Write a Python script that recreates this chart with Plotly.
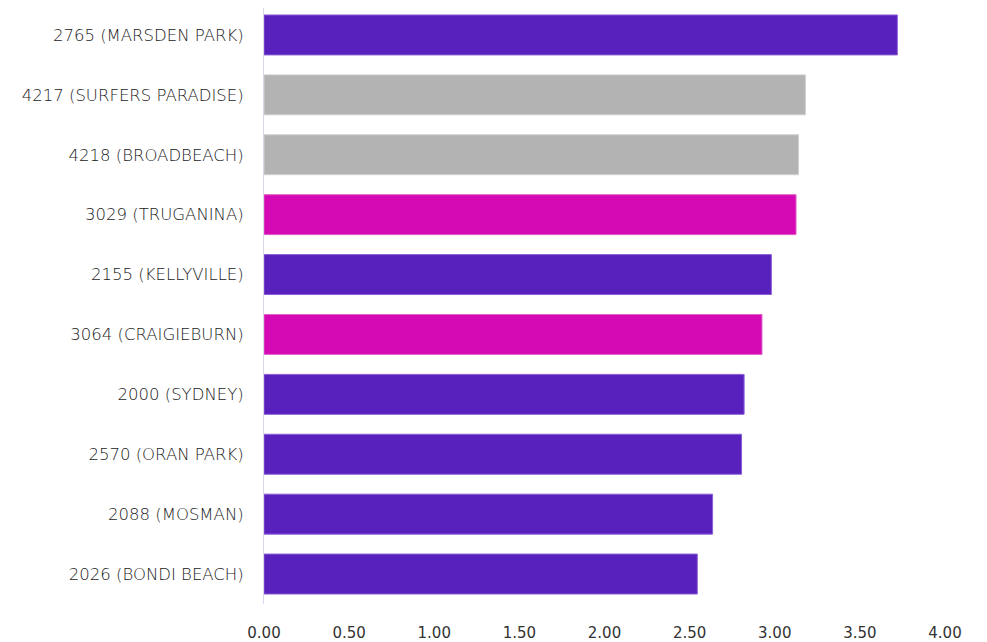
import plotly.graph_objects as go

categories = ["2765 (MARSDEN PARK)", "4217 (SURFERS PARADISE)", "4218 (BROADBEACH)",
              "3029 (TRUGANINA)", "2155 (KELLYVILLE)", "3064 (CRAIGIEBURN)",
              "2000 (SYDNEY)", "2570 (ORAN PARK)", "2088 (MOSMAN)", "2026 (BONDI BEACH)"]
values = [3.72, 3.18, 3.14, 3.125, 2.98, 2.925, 2.82, 2.805, 2.635, 2.545]
states = ["NSW", "QLD", "QLD", "VIC", "NSW", "VIC", "NSW", "NSW", "NSW", "NSW"]
state_colors = {"NSW": "#5820BD", "QLD": "#B3B3B3", "VIC": "#D60AB4"}
state_lines = {"NSW": "#8A5FD6", "QLD": "#D0D0D0", "VIC": "#E060C8"}
tick_vals = [0, 0.5, 1, 1.5, 2, 2.5, 3, 3.5, 4]
tick_text = ["0.00", "0.50", "1.00", "1.50", "2.00", "2.50", "3.00", "3.50", "4.00"]

fig = go.Figure(go.Bar(
    x=values, y=categories, orientation="h",
    marker=dict(color=[state_colors[s] for s in states],
                line=dict(color=[state_lines[s] for s in states], width=1)),
    width=0.667,
))
fig.update_layout(
    width=979, height=634,
    margin=dict(l=256, r=42, t=0, b=34),
    paper_bgcolor="white", plot_bgcolor="white",
    font=dict(family="DejaVu Sans", size=15, color="#262626"),
    showlegend=False,
    xaxis=dict(range=[0, 4], tickvals=tick_vals, ticktext=tick_text,
               showgrid=False, zeroline=False, showline=False,
               ticks="outside", ticklen=15, tickcolor="rgba(0,0,0,0)",
               tickfont=dict(size=15, color="#333333")),
    yaxis=dict(range=[9.5, -0.45], showgrid=False, zeroline=False,
               showline=True, linecolor="#D9D6EC", linewidth=1,
               ticks="outside", ticklen=16, tickcolor="rgba(0,0,0,0)",
               tickfont=dict(size=16.5, weight=300, color="#1A1A1A")),
)
fig.write_html("out.html")
